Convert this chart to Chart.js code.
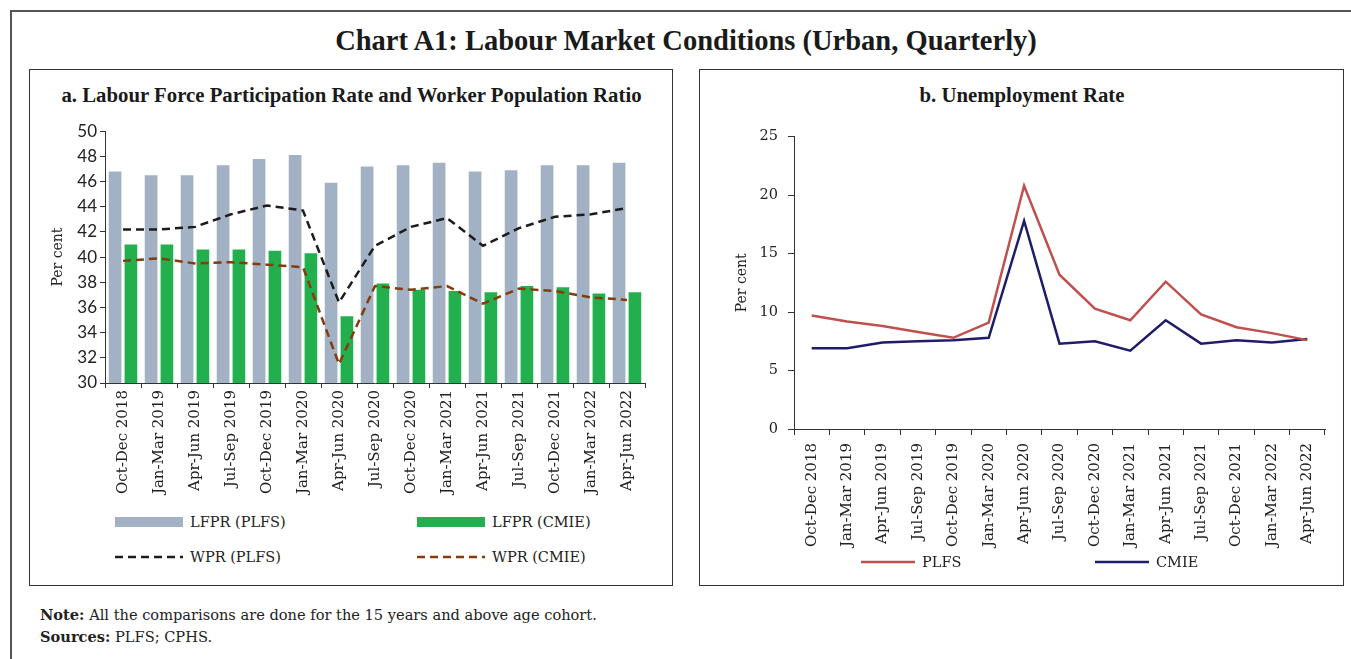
<!DOCTYPE html>
<html>
<head>
<meta charset="utf-8">
<script src="https://cdn.jsdelivr.net/npm/chart.js@4.4.0/dist/chart.umd.min.js"></script>
<style>
  body { margin: 0; width: 1351px; height: 659px; position: relative; overflow: hidden; background: #fff; color: #222; font-family: "DejaVu Serif", serif; }
  .frame { position: absolute; left: 10px; top: 10px; width: 1360px; height: 700px; border-left: 2px solid #555; border-top: 2px solid #555; }
  .title { position: absolute; left: 0; top: 25px; width: 1372px; text-align: center; font: bold 28.5px "Liberation Serif", serif; color: #1a1a1a; }
  .panel { position: absolute; top: 69px; height: 515px; border: 1.5px solid #333; }
  .ptitle { position: absolute; top: 83px; text-align: center; font: bold 20.8px "Liberation Serif", serif; color: #1a1a1a; }
  canvas { position: absolute; }
  .leg { position: absolute; font-size: 14.5px; line-height: 16px; white-space: nowrap; }
  .leg svg { position: absolute; left: 0; top: 0; }
  .leg span { position: absolute; top: 0; }
  .notes { position: absolute; left: 40px; top: 604px; font-size: 14.6px; line-height: 22px; }
</style>
</head>
<body>
<div class="frame"></div>
<div class="title">Chart A1: Labour Market Conditions (Urban, Quarterly)</div>

<div class="panel" style="left:29px; width:642px;"></div>
<div class="ptitle" style="left:29px; width:645px;">a. Labour Force Participation Rate and Worker Population Ratio</div>
<canvas id="chartA" width="642" height="387" style="left:30px; top:118px;"></canvas>
<div id="legendA"></div>

<div class="panel" style="left:699px; width:643px;"></div>
<div class="ptitle" style="left:699px; width:646px;">b. Unemployment Rate</div>
<canvas id="chartB" width="643" height="437" style="left:700px; top:118px;"></canvas>
<div id="legendB"></div>

<div class="notes"><b>Note:</b> All the comparisons are done for the 15 years and above age cohort.<br><b>Sources:</b> PLFS; CPHS.</div>

<script>
const quarters = ['Oct-Dec 2018', 'Jan-Mar 2019', 'Apr-Jun 2019', 'Jul-Sep 2019', 'Oct-Dec 2019',
  'Jan-Mar 2020', 'Apr-Jun 2020', 'Jul-Sep 2020', 'Oct-Dec 2020', 'Jan-Mar 2021',
  'Apr-Jun 2021', 'Jul-Sep 2021', 'Oct-Dec 2021', 'Jan-Mar 2022', 'Apr-Jun 2022'];

// a. participation and worker population (per cent)
const lfprPlfs = [46.8, 46.5, 46.5, 47.3, 47.8, 48.1, 45.9, 47.2, 47.3, 47.5, 46.8, 46.9, 47.3, 47.3, 47.5];
const lfprCmie = [41.0, 41.0, 40.6, 40.6, 40.5, 40.3, 35.3, 37.9, 37.4, 37.3, 37.2, 37.7, 37.6, 37.1, 37.2];
const wprPlfs = [42.2, 42.2, 42.4, 43.4, 44.1, 43.7, 36.4, 40.9, 42.4, 43.1, 40.9, 42.3, 43.2, 43.4, 43.9];
const wprCmie = [39.7, 39.9, 39.5, 39.6, 39.4, 39.2, 31.5, 37.7, 37.4, 37.7, 36.3, 37.5, 37.3, 36.8, 36.6];

// b. unemployment rate (per cent)
const urPlfs = [9.7, 9.2, 8.8, 8.3, 7.8, 9.1, 20.8, 13.2, 10.3, 9.3, 12.6, 9.8, 8.7, 8.2, 7.6];
const urCmie = [6.9, 6.9, 7.4, 7.5, 7.6, 7.8, 17.8, 7.3, 7.5, 6.7, 9.3, 7.3, 7.6, 7.4, 7.7];

const axisLeft = [30, 50, 2];
const axisRight = [0, 25, 5];

Chart.defaults.font.family = '"DejaVu Serif", serif';
Chart.defaults.color = '#222';

const dash = [8, 5];

const chartA = new Chart(document.getElementById('chartA'), {
  type: 'bar',
  data: {
    labels: quarters,
    datasets: [
      { type: 'line', label: 'WPR (PLFS)', data: wprPlfs, borderColor: '#1c1c1c', borderWidth: 2.5, borderDash: dash, pointRadius: 0, order: 0 },
      { type: 'line', label: 'WPR (CMIE)', data: wprCmie, borderColor: '#843C0C', borderWidth: 2.5, borderDash: dash, pointRadius: 0, order: 0 },
      { label: 'LFPR (PLFS)', data: lfprPlfs, backgroundColor: '#A2B1C3', categoryPercentage: 0.88, barPercentage: 0.8, order: 1 },
      { label: 'LFPR (CMIE)', data: lfprCmie, backgroundColor: '#22B04F', categoryPercentage: 0.88, barPercentage: 0.8, order: 1 }
    ]
  },
  options: {
    responsive: false,
    animation: false,
    layout: { padding: { top: 11, right: 27, left: 0, bottom: 0 } },
    plugins: { legend: { display: false }, tooltip: { enabled: false } },
    scales: {
      x: {
        offset: true,
        grid: { offset: true, drawOnChartArea: false, tickLength: 5, color: '#333' },
        border: { color: '#333' },
        ticks: { minRotation: 90, maxRotation: 90, autoSkip: false, padding: 2, font: { size: 15 } },
        afterFit: s => { s.height = 122; }
      },
      y: {
        min: axisLeft[0],
        max: axisLeft[1],
        ticks: { stepSize: axisLeft[2], padding: 3, font: { family: 'Lato, sans-serif', size: 17 } },
        grid: { drawOnChartArea: false, tickLength: 5, color: '#333' },
        border: { color: '#333' },
        title: { display: true, text: 'Per cent', font: { size: 14 }, padding: { top: 20, bottom: 0 } },
        afterFit: s => { s.width = 75; }
      }
    }
  }
});

const chartB = new Chart(document.getElementById('chartB'), {
  type: 'line',
  data: {
    labels: quarters,
    datasets: [
      { label: 'PLFS', data: urPlfs, borderColor: '#C0504D', borderWidth: 2.5, pointRadius: 0 },
      { label: 'CMIE', data: urCmie, borderColor: '#1F1D6B', borderWidth: 2.5, pointRadius: 0 }
    ]
  },
  options: {
    responsive: false,
    animation: false,
    layout: { padding: { top: 18, right: 18, left: 0, bottom: 0 } },
    plugins: { legend: { display: false }, tooltip: { enabled: false } },
    scales: {
      x: {
        offset: true,
        grid: { offset: true, drawOnChartArea: false, tickLength: 6, color: '#333' },
        border: { color: '#333' },
        ticks: { minRotation: 90, maxRotation: 90, autoSkip: false, padding: 8, font: { size: 15 } },
        afterFit: s => { s.height = 126; }
      },
      y: {
        min: axisRight[0],
        max: axisRight[1],
        ticks: { stepSize: axisRight[2], padding: 10, font: { size: 14.5 } },
        grid: { drawOnChartArea: false, tickLength: 6, color: '#333' },
        border: { color: '#333' },
        title: { display: true, text: 'Per cent', font: { size: 14 }, padding: { top: 34, bottom: 0 } },
        afterFit: s => { s.width = 94; }
      }
    }
  }
});

// legend entries: swatch box or line sample, then the series name
function addLegend(holder, items) {
  const el = document.getElementById(holder);
  items.forEach(it => {
    const d = document.createElement('div');
    d.className = 'leg';
    d.style.left = it.x + 'px';
    d.style.top = (it.y - 8) + 'px';
    const w = it.w;
    let mark;
    if (it.kind === 'box') {
      mark = `<rect x="0" y="3" width="${w}" height="10" fill="${it.color}"/>`;
    } else {
      const da = it.dash ? `stroke-dasharray="${it.dash.join(' ')}"` : '';
      mark = `<line x1="0" y1="8" x2="${w}" y2="8" stroke="${it.color}" stroke-width="2.5" ${da}/>`;
    }
    d.innerHTML = `<svg width="${w}" height="16">${mark}</svg><span style="left:${w + 7}px">${it.label}</span>`;
    el.appendChild(d);
  });
}

const dsA = chartA.data.datasets;
addLegend('legendA', [
  { x: 115, y: 522, w: 68, kind: 'box', color: dsA[2].backgroundColor, label: dsA[2].label },
  { x: 417, y: 522, w: 68, kind: 'box', color: dsA[3].backgroundColor, label: dsA[3].label },
  { x: 115, y: 557, w: 68, kind: 'line', color: dsA[0].borderColor, dash: dash, label: dsA[0].label },
  { x: 417, y: 557, w: 68, kind: 'line', color: dsA[1].borderColor, dash: dash, label: dsA[1].label }
]);

const dsB = chartB.data.datasets;
addLegend('legendB', [
  { x: 861, y: 562, w: 54, kind: 'line', color: dsB[0].borderColor, label: dsB[0].label },
  { x: 1095, y: 562, w: 54, kind: 'line', color: dsB[1].borderColor, label: dsB[1].label }
]);
</script>
</body>
</html>
